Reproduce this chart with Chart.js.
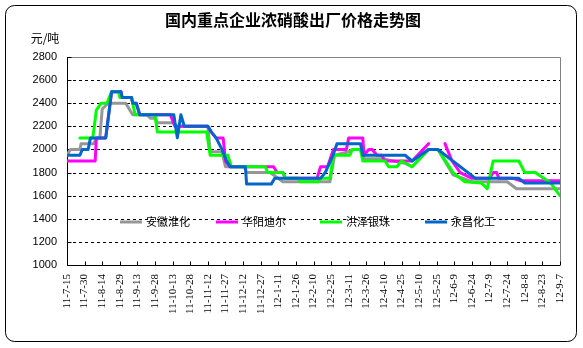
<!DOCTYPE html>
<html>
<head>
<meta charset="utf-8">
<script src="https://cdn.jsdelivr.net/npm/chart.js@4.4.0/dist/chart.umd.min.js"></script>
<style>
  body { margin: 0; background: #fff; }
  #wrap { width: 583px; height: 348px; }
</style>
</head>
<body>
<div id="wrap"><canvas id="priceChart" width="583" height="348"></canvas></div>
<script>
// x = days since 2011-7-15, labels every 15 days
const tickLabels = ["11-7-15", "11-7-30", "11-8-14", "11-8-29", "11-9-13", "11-9-28", "11-10-13", "11-10-28",
  "11-11-12", "11-11-27", "11-12-12", "11-12-27", "12-1-11", "12-1-26", "12-2-10", "12-2-25", "12-3-11",
  "12-3-26", "12-4-10", "12-4-25", "12-5-10", "12-5-25", "12-6-9", "12-6-24", "12-7-9", "12-7-24",
  "12-8-8", "12-8-23", "12-9-7"];
const seriesNames = ["安徽淮化", "华阳迪尔", "洪泽银珠", "永昌化工"];

const anhuiDays  = [0, 3, 11, 12, 23, 25, 28, 30, 35, 50, 53, 56, 68, 71, 75, 77, 90, 94, 120, 122, 132, 135, 151, 153, 173, 184, 224, 228, 240, 243, 250, 253, 268, 288, 294, 308, 316, 329, 340, 345, 375, 383, 420];
const anhuiPrice = [1950, 2000, 2000, 2050, 2050, 2100, 2100, 2350, 2400, 2400, 2350, 2300, 2300, 2270, 2270, 2230, 2230, 2200, 2200, 1980, 1980, 1850, 1850, 1800, 1800, 1720, 1720, 1950, 1980, 2000, 2000, 1920, 1920, 1880, 1850, 2000, 2000, 1780, 1740, 1720, 1720, 1660, 1660];

const huayangDays  = [0, 24, 25, 33, 38, 46, 47, 55, 56, 59, 62, 88, 92, 120, 123, 127, 133, 135, 139, 176, 179, 184, 186, 213, 216, 222, 227, 238, 240, 252, 253, 257, 260, 264, 268, 271, 285, 294, 308, 309, 321, 322, 328, 335, 345, 360, 363, 366, 368, 380, 386, 420];
const huayangPrice = [1900, 1900, 2100, 2100, 2500, 2500, 2450, 2450, 2400, 2400, 2300, 2300, 2200, 2200, 2150, 2100, 2100, 1900, 1850, 1850, 1800, 1800, 1750, 1750, 1850, 1850, 2000, 2000, 2100, 2100, 1950, 2000, 2000, 1950, 1950, 1900, 1900, 1900, 2050, null, null, 2050, 1900, 1800, 1750, 1750, 1800, 1800, 1750, 1750, 1730, 1730];

const hongzeDays  = [11, 22, 25, 29, 34, 38, 44, 45, 55, 58, 75, 77, 119, 122, 137, 140, 169, 171, 184, 186, 197, 199, 214, 216, 224, 227, 241, 243, 250, 252, 271, 274, 281, 285, 294, 308, 316, 329, 339, 353, 358, 363, 385, 390, 399, 412, 420];
const hongzePrice = [2100, 2100, 2340, 2400, 2400, 2500, 2500, 2450, 2450, 2300, 2300, 2150, 2150, 1950, 1950, 1850, 1850, 1800, 1800, 1750, 1750, 1720, 1720, 1750, 1750, 1950, 1950, 2000, 2000, 1900, 1900, 1850, 1850, 1900, 1850, 2000, 2000, 1800, 1720, 1710, 1660, 1900, 1900, 1800, 1800, 1710, 1600];

const yongchangDays  = [0, 11, 13, 18, 20, 33, 38, 46, 47, 55, 56, 59, 62, 91, 94, 97, 100, 120, 123, 127, 132, 136, 139, 152, 153, 174, 177, 216, 220, 227, 230, 250, 252, 288, 294, 308, 316, 348, 385, 390, 420];
const yongchangPrice = [1950, 1950, 2000, 2000, 2100, 2100, 2500, 2500, 2450, 2450, 2400, 2400, 2300, 2300, 2100, 2300, 2200, 2200, 2150, 2100, 2000, 1900, 1850, 1850, 1700, 1700, 1750, 1750, 1800, 1960, 2050, 2050, 1950, 1950, 1900, 2000, 2000, 1750, 1750, 1710, 1710];

const seriesColors = ["#969696", "#FF00FF", "#00FF00", "#0066CC"];

function toPoints(days, prices) {
  return days.map((d, i) => ({ x: d, y: prices[i] }));
}

const chartData = {
  datasets: [
    { label: seriesNames[0], data: toPoints(anhuiDays, anhuiPrice), borderColor: seriesColors[0], order: 4 },
    { label: seriesNames[1], data: toPoints(huayangDays, huayangPrice), borderColor: seriesColors[1], order: 3 },
    { label: seriesNames[2], data: toPoints(hongzeDays, hongzePrice), borderColor: seriesColors[2], order: 2 },
    { label: seriesNames[3], data: toPoints(yongchangDays, yongchangPrice), borderColor: seriesColors[3], order: 1 }
  ]
};

// grid, frame, title and legend drawn by hand
const framePlugin = {
  id: 'framePlugin',
  beforeDraw(chart) {
    const ctx = chart.ctx;
    ctx.save();
    ctx.fillStyle = '#fff';
    ctx.fillRect(0, 0, chart.width, chart.height);
    ctx.restore();
  },
  beforeDatasetsDraw(chart) {
    const { ctx, chartArea: a, scales: { x, y } } = chart;
    ctx.save();
    ctx.lineWidth = 1;
    ctx.strokeStyle = '#000';
    ctx.setLineDash([3, 3]);
    y.ticks.forEach(t => {
      if (t.value <= y.min || t.value >= y.max) return;
      const py = Math.round(y.getPixelForValue(t.value)) + 0.5;
      ctx.beginPath(); ctx.moveTo(a.left, py); ctx.lineTo(a.right, py); ctx.stroke();
    });
    ctx.setLineDash([]);
    ctx.strokeStyle = '#808080';
    ctx.beginPath();
    ctx.moveTo(a.left, Math.round(a.top) + 0.5);
    ctx.lineTo(Math.round(a.right) + 0.5, Math.round(a.top) + 0.5);
    ctx.lineTo(Math.round(a.right) + 0.5, a.bottom);
    ctx.stroke();
    ctx.strokeStyle = '#000';
    const lx = Math.round(a.left) + 0.5, by = Math.round(a.bottom) + 0.5;
    ctx.beginPath();
    ctx.moveTo(lx, a.top); ctx.lineTo(lx, by); ctx.lineTo(a.right, by);
    ctx.stroke();
    // inside tick marks
    y.ticks.forEach(t => {
      const py = Math.round(y.getPixelForValue(t.value)) + 0.5;
      ctx.beginPath(); ctx.moveTo(lx, py); ctx.lineTo(lx + 4, py); ctx.stroke();
    });
    x.ticks.forEach(t => {
      const px = Math.round(x.getPixelForValue(t.value)) + 0.5;
      ctx.beginPath(); ctx.moveTo(px, by); ctx.lineTo(px, by - 4); ctx.stroke();
    });
    ctx.restore();
  },
  afterDraw(chart) {
    const ctx = chart.ctx;
    ctx.save();
    // outer rounded border
    ctx.strokeStyle = '#000';
    ctx.lineWidth = 1;
    ctx.beginPath();
    ctx.roundRect(5.5, 5.5, 571, 336, 9);
    ctx.stroke();
    // title + unit
    ctx.fillStyle = '#000';
    ctx.textAlign = 'center';
    ctx.textBaseline = 'middle';
    ctx.font = 'bold 16px "Noto Sans CJK SC"';
    ctx.fillText('国内重点企业浓硝酸出厂价格走势图', 293, 20);
    ctx.font = '12px "Noto Sans CJK SC"';
    ctx.fillText('元/吨', 45, 38);
    // legend
    const legendX = [120, 216, 320, 425];
    const legendY = 222;
    ctx.textAlign = 'left';
    ctx.font = '11px "Noto Sans CJK SC"';
    chart.data.datasets.forEach((ds, i) => {
      ctx.strokeStyle = ds.borderColor;
      ctx.lineWidth = 3;
      ctx.beginPath();
      ctx.moveTo(legendX[i], legendY);
      ctx.lineTo(legendX[i] + 22, legendY);
      ctx.stroke();
      ctx.fillStyle = '#000';
      ctx.fillText(ds.label, legendX[i] + 26, legendY);
    });
    ctx.restore();
  }
};

new Chart(document.getElementById('priceChart'), {
  type: 'line',
  data: chartData,
  options: {
    responsive: false,
    animation: false,
    layout: { padding: { top: 57, right: 23, left: 0, bottom: 0 } },
    elements: {
      line: { borderWidth: 3, tension: 0, borderJoinStyle: 'round', borderCapStyle: 'round', fill: false },
      point: { radius: 0 }
    },
    spanGaps: false,
    plugins: {
      legend: { display: false },
      title: { display: false },
      tooltip: { enabled: false }
    },
    scales: {
      x: {
        type: 'linear',
        min: 0,
        max: 420,
        grid: { display: false, drawTicks: false },
        border: { display: false },
        afterFit: s => { s.height = 83; },
        afterBuildTicks: s => { s.ticks = tickLabels.map((_, i) => ({ value: i * 15 })); },
        ticks: {
          autoSkip: false,
          minRotation: 90,
          maxRotation: 90,
          padding: 9,
          color: '#000',
          font: { family: '"Liberation Serif"', size: 11 },
          callback: v => tickLabels[Math.round(v / 15)]
        }
      },
      y: {
        min: 1000,
        max: 2800,
        grid: { display: false, drawTicks: false },
        border: { display: false },
        afterFit: s => { s.width = 67; },
        ticks: {
          stepSize: 200,
          padding: 10,
          color: '#000',
          font: { family: '"Liberation Sans"', size: 11 },
          callback: v => String(v)
        }
      }
    }
  },
  plugins: [framePlugin]
});
</script>
</body>
</html>
